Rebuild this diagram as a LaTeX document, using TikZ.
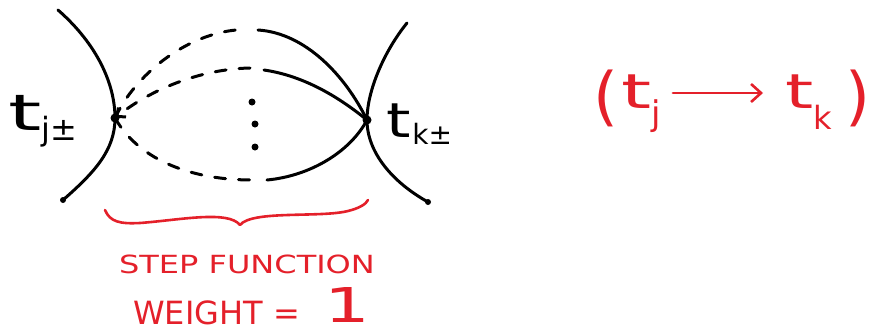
\documentclass[tikz,border=0pt]{standalone}
\usepackage{fontspec}
\setmainfont{DejaVu Sans}
\usetikzlibrary{arrows.meta}
\definecolor{handred}{RGB}{228,32,42}
\newcommand{\bigt}[2]{{\fontsize{#1}{#1}\selectfont\scalebox{#2}[1]{t}}}
\begin{document}
\begin{tikzpicture}[x=1pt,y=-1pt, line cap=round, line join=round,
  curve/.style={line width=3pt, black},
  dashcurve/.style={curve, dash pattern=on 11pt off 13pt},
  vdot/.style={circle, fill=black, inner sep=0pt, minimum size=9pt},
  sdot/.style={circle, fill=black, inner sep=0pt, minimum size=6pt},
  lab/.style={inner sep=0pt, anchor=base west},
  redlab/.style={inner sep=0pt, text=handred, text depth=0pt},
  redline/.style={line width=2.6pt, handred}]
\useasboundingbox (0,0) rectangle (873,335);

% vertices and end points
\node[vdot] (L) at (115,118) {};
\node[vdot] (R) at (367,120) {};
\node[sdot] (LB) at (63,200) {};
\node[sdot] (RB) at (428,202) {};
\coordinate (LT) at (58,10);
\coordinate (RT) at (407,23);

% crossing curves
\draw[curve] (LT) .. controls (98,45) and (115,85) .. (L.center)
  .. controls (115,150) and (95,172) .. (LB.center);
\draw[curve] (RT) .. controls (385,50) and (367,90) .. (R.center)
  .. controls (367,152) and (392,182) .. (RB.center);

% outer upper arc
\coordinate (OU1) at (236,30);
\coordinate (OU2) at (258,30);
\draw[dashcurve] (L.center) .. controls (135,75) and (185,35) .. (OU1);
\draw[curve] (OU2) .. controls (305,33) and (345,75) .. (R.center);

% inner upper arc
\coordinate (IU1) at (250,68);
\coordinate (IU2) at (264,70);
\draw[dashcurve, -{Straight Barb[length=7pt,width=12pt]}] (IU1) .. controls (200,69) and (150,90) .. (L.center);
\draw[curve] (IU2) .. controls (305,76) and (340,98) .. (R.center);

% lower arc
\coordinate (LO1) at (252,180);
\coordinate (LO2) at (267,180);
\draw[dashcurve] (L.center) .. controls (140,162) and (195,180) .. (LO1);
\draw[curve] (LO2) .. controls (310,176) and (350,152) .. (R.center);

% vertical dots
\node[sdot, minimum size=7pt] (d1) at (252,102) {};
\node[sdot, minimum size=7pt] (d2) at (255,124) {};
\node[sdot, minimum size=7pt] (d3) at (255,147) {};

% labels
\node[lab] (tj) at (8,130) {\bigt{50}{1.7}\raisebox{-10pt}{\fontsize{32}{32}\selectfont j±}};
\node[lab] (tk) at (386,137) {\bigt{48}{1.3}\,\raisebox{-7pt}{\fontsize{28}{28}\selectfont k±}};

% red brace
\draw[redline] (105,210) .. controls (110,222) and (120,224) .. (140,223)
  .. controls (180,220) and (228,210) .. (240,225)
  .. controls (252,210) and (320,218) .. (348,211)
  .. controls (360,208) and (366,204) .. (368,200);

\node[redlab, anchor=base] (sf) at (247,273) {\fontsize{25}{25}\selectfont\scalebox{1.28}[1]{STEP FUNCTION}};
\node[redlab, anchor=base west] (wt) at (133,324) {\fontsize{32}{32}\selectfont WEIGHT =};
\node[redlab, anchor=base west] (one) at (324,322) {\fontsize{48}{48}\selectfont\scalebox{1.5}[1]{1}};

% red (t_j -> t_k)
\node[redlab] (lp) at (606,94) {\fontsize{64}{64}\selectfont (};
\node[redlab, anchor=base west] (rtj) at (621,108) {\bigt{48}{1.6}\raisebox{-17pt}{\fontsize{34}{34}\selectfont j}};
\node[redlab, anchor=base west] (rtk) at (785,108) {\bigt{48}{1.5}\raisebox{-21pt}{\fontsize{32}{32}\selectfont k}};
\node[redlab] (rp) at (858,94) {\fontsize{64}{64}\selectfont )};
\draw[redline, -{Straight Barb[length=10pt,width=18pt]}] ([xshift=12pt]rtj.east |- 0,93) -- ([xshift=-22pt]rtk.west |- 0,93);
\end{tikzpicture}
\end{document}
